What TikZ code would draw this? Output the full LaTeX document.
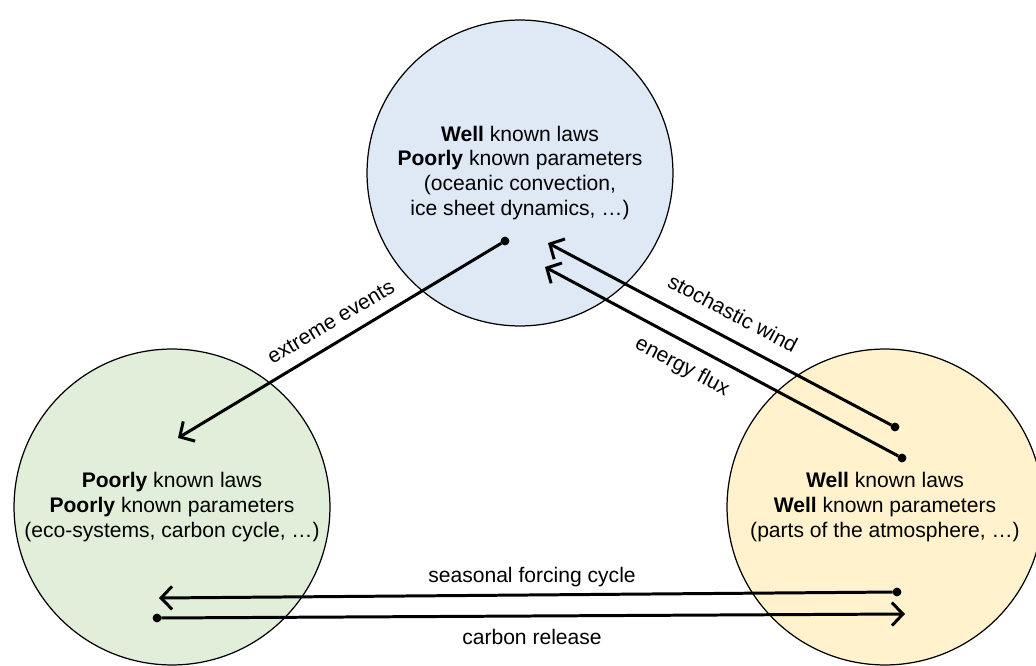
\documentclass[tikz,border=0pt]{standalone}
\usepackage{fontspec}
\setmainfont{Liberation Sans}
\usepackage{tikz}
\usetikzlibrary{arrows.meta, positioning}
\definecolor{oceanblue}{HTML}{DEE9F5}
\definecolor{biogreen}{HTML}{E1EED9}
\definecolor{atmosyellow}{HTML}{FFF2CC}
\tikzset{
    circlenode/.style = {circle, draw, line width=0.7pt, inner sep = 0em, 
      font=\fontsize{12}{14.2}\selectfont},
    dotnode/.style = {draw, fill=black, circle, minimum size=0.16cm, inner sep = 0em},
    textnode/.style  = {draw=none, fill=none, rectangle, inner sep = 0em, 
      font=\fontsize{12}{14.2}\selectfont},
    connect/.style = {black, line width=1.7pt, -{Straight Barb[length=2.2mm, width=4.6mm]}},
    every text node part/.style={align=center}
}

\begin{document}
\begin{tikzpicture}[x=0.02cm, y=-0.02cm]
    \useasboundingbox (0,0) rectangle (1036,666);

    \node [name=ocean, circlenode, fill=oceanblue, minimum size=6.12cm] at (520,173) 
        {\textbf{Well} known laws\\\textbf{Poorly} known parameters\\(oceanic convection,\\ice sheet dynamics, \dots)};
    \node [name=bio, circlenode, fill=biogreen, minimum size=6.32cm] at (172,507) 
        {\textbf{Poorly} known laws\\\textbf{Poorly} known parameters\\(eco-systems, carbon cycle, \dots)};
    \node [name=atmos, circlenode, fill=atmosyellow, minimum size=6.32cm] at (885,507) 
        {\textbf{Well} known laws\\\textbf{Well} known parameters\\(parts of the atmosphere, \dots)};

    % start dots and arrow ends
    \node [name=dext, dotnode] at (505,241) {};
    \coordinate (text) at (178,438);
    \node [name=dwind, dotnode] at (895,427) {};
    \coordinate (twind) at (548,243);
    \node [name=dflux, dotnode] at (902,458) {};
    \coordinate (tflux) at (545,267);
    \node [name=dseas, dotnode] at (897,592) {};
    \coordinate (tseas) at (159,598);
    \node [name=dcarb, dotnode] at (157,618) {};
    \coordinate (tcarb) at (905,614);

    \draw [connect] (dext) -- (text); 
    \draw [connect] (dwind) -- (twind); 
    \draw [connect] (dflux) -- (tflux); 
    \draw [connect] (dseas) -- (tseas); 
    \draw [connect] (dcarb) -- (tcarb); 

    \node [name=lext, textnode, rotate=31] at (331,322) {extreme events}; 
    \node [name=lwind, textnode, rotate=-28] at (733,313) {stochastic wind}; 
    \node [name=lflux, textnode, rotate=-28] at (682,367) {energy flux}; 
    \node [name=lseas, textnode] at (532,577) {seasonal forcing cycle}; 
    \node [name=lcarb, textnode] at (532,637) {carbon release}; 
\end{tikzpicture}
\end{document}
